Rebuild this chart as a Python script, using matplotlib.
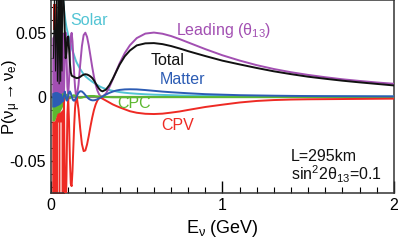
import matplotlib
matplotlib.use("Agg")
import matplotlib.pyplot as plt
from matplotlib.ticker import MultipleLocator

plt.rcParams['font.family'] = ['Liberation Sans', 'DejaVu Sans']
plt.rcParams['mathtext.fontset'] = 'custom'
plt.rcParams['mathtext.rm'] = 'Liberation Sans'
plt.rcParams['mathtext.it'] = 'Liberation Sans'
plt.rcParams['mathtext.default'] = 'regular'

# neutrino energy (GeV) where the curves are sampled
energy = [0.07, 0.075, 0.08, 0.085, 0.09, 0.095,
          0.10, 0.105, 0.11, 0.115, 0.12, 0.125, 0.13, 0.135, 0.14, 0.145, 0.15,
          0.16, 0.17, 0.18, 0.19, 0.20, 0.21, 0.22, 0.23, 0.24, 0.25,
          0.26, 0.27, 0.28, 0.29, 0.30, 0.32, 0.34, 0.36, 0.38, 0.40,
          0.43, 0.46, 0.50, 0.55, 0.60, 0.65, 0.70, 0.75, 0.80,
          0.90, 1.0, 1.1, 1.2, 1.3, 1.4, 1.5, 1.6, 1.7, 1.8, 1.9, 2.0]

leading = [0.0246, 0.0006, 0.0303, 0.0500, 0.0332, 0.0078,
           0.0004, 0.0128, 0.0322, 0.0465, 0.0498, 0.0431, 0.0307, 0.0176, 0.0072, 0.0012, 0.0002,
           0.0093, 0.0251, 0.0395, 0.0480, 0.0499, 0.0466, 0.0399, 0.0316, 0.0232, 0.0157,
           0.0095, 0.0049, 0.0019, 0.0003, 0.0000, 0.0024, 0.0074, 0.0135, 0.0199, 0.0261,
           0.0340, 0.0401, 0.0457, 0.0492, 0.0500, 0.0491, 0.0473, 0.0449, 0.0423,
           0.0371, 0.0323, 0.0282, 0.0246, 0.0216, 0.0191, 0.0170, 0.0152, 0.0136, 0.0123, 0.0111, 0.0101]

solar = [0.076, 0.069, 0.063, 0.058, 0.054, 0.051,
         0.048, 0.046, 0.044, 0.041, 0.038, 0.036, 0.034, 0.032, 0.030, 0.028, 0.0265,
         0.024, 0.0215, 0.0195, 0.0175, 0.016, 0.0148, 0.0137, 0.0127, 0.0117, 0.0108,
         0.0099, 0.0091, 0.0083, 0.0076, 0.0070, 0.0060, 0.0052, 0.0046, 0.0041, 0.0036,
         0.0031, 0.0027, 0.0023, 0.0019, 0.0016, 0.0014, 0.0012, 0.0010, 0.0009,
         0.0007, 0.0006, 0.0005, 0.0004, 0.00035, 0.0003, 0.00027, 0.00024, 0.00021, 0.00019, 0.00017, 0.00015]

matter = [-0.0034, 0.0008, 0.0040, 0.0006, -0.0030, -0.0026,
          0.0006, 0.0034, 0.0041, 0.0027, 0.0004, -0.0017, -0.0029, -0.0031, -0.0024, -0.0011, 0.0004,
          0.0031, 0.0043, 0.0041, 0.0029, 0.0013, -0.0003, -0.0016, -0.0024, -0.0028, -0.0028,
          -0.0025, -0.0020, -0.0013, -0.0006, 0.0002, 0.0017, 0.0030, 0.0040, 0.0048, 0.0053,
          0.0057, 0.0058, 0.0057, 0.0052, 0.0046, 0.0040, 0.0035, 0.0031, 0.0027,
          0.0020, 0.0016, 0.0012, 0.0010, 0.0008, 0.00065, 0.00053, 0.00045, 0.0004, 0.00035, 0.0003, 0.00025]

cpc = [0.0020, -0.0004, -0.0018, 0.0000, 0.0016, 0.0011,
       -0.0003, -0.0012, -0.0013, -0.0007, 0.0002, 0.0008, 0.0011, 0.0011, 0.0008, 0.0003, -0.0001,
       -0.0007, -0.0009, -0.0007, -0.0003, 0.0001, 0.0004, 0.0005, 0.0006, 0.0006, 0.0006,
       0.0004, 0.0003, 0.0002, 0.0001, 0.0000, -0.0002, -0.0003, -0.0004, -0.0004, -0.0004,
       -0.0004, -0.0004, -0.0004, -0.0003, -0.0003, -0.0003, -0.0003, -0.0003, -0.0003,
       -0.0003, -0.0003, -0.0003, -0.0003, -0.0003, -0.0003, -0.0003, -0.0003, -0.0003, -0.0003, -0.0003, -0.0003]

cpv = [-0.059, -0.0014, -0.0635, -0.0988, -0.0621, -0.0139,
       -0.0006, -0.0204, -0.0493, -0.0679, -0.0697, -0.0579, -0.0397, -0.0220, -0.0086, -0.0014, -0.0002,
       -0.0098, -0.0248, -0.0369, -0.0424, -0.0419, -0.0372, -0.0305, -0.0231, -0.0163, -0.0105,
       -0.0061, -0.0030, -0.0012, -0.0008, -0.0015, -0.0030, -0.0045, -0.0060, -0.0072, -0.0083,
       -0.0098, -0.0113, -0.0125, -0.0133, -0.0135, -0.0132, -0.0124, -0.0115, -0.0103,
       -0.0080, -0.0062, -0.0045, -0.0033, -0.0026, -0.0022, -0.0020, -0.0019, -0.0018, -0.0017, -0.0016, -0.0015]

total = [0.080, 0.070, 0.050, 0.030, 0.035, 0.046,
         0.047, 0.037, 0.026, 0.019, 0.0165, 0.016, 0.0158, 0.0154, 0.015, 0.0147, 0.0145,
         0.0147, 0.0155, 0.0165, 0.0172, 0.0175, 0.0173, 0.0167, 0.0158, 0.0146, 0.0128,
         0.0105, 0.0082, 0.0062, 0.0048, 0.0042, 0.0055, 0.0090, 0.0140, 0.0195, 0.0250,
         0.0315, 0.0360, 0.0400, 0.0416, 0.0418, 0.0410, 0.0395, 0.0376, 0.0355,
         0.0317, 0.0281, 0.0252, 0.0224, 0.0198, 0.0176, 0.0156, 0.0140, 0.0125, 0.0112, 0.0100, 0.0088]

# fast-oscillation region at low energy, drawn as envelopes
chaos_e = [0.004, 0.02, 0.035, 0.05, 0.065, 0.078]
purple_top = [0.046, 0.050, 0.050, 0.050, 0.050, 0.050]
blue_top = [0.003, 0.004, 0.004, 0.003, 0.002, 0.001]
blue_bot = [-0.008, -0.008, -0.007, -0.006, -0.004, -0.002]
green_bot = [-0.019, -0.019, -0.014, -0.012, -0.008, -0.004]
red_top = [-0.019, -0.019, -0.013, -0.012, -0.010, -0.004]
red_gap_e = [0.0425, 0.0495, 0.0595]
red_hi_e = [0.012, 0.035]
red_hi_lo = [0.052, 0.052]
red_hi_hi = [0.072, 0.072]
black_zz_e = [0.014, 0.02, 0.026, 0.032, 0.037, 0.042, 0.047, 0.052, 0.056, 0.060, 0.064, 0.068, 0.070]
black_zz_p = [0.03, 0.08, 0.02, 0.08, 0.012, 0.08, 0.01, 0.08, 0.012, 0.08, 0.02, 0.08, 0.08]

PURPLE = "#a24fb2"
CYAN = "#52c4d4"
BLUE = "#2c5cb4"
GREEN = "#5cb830"
RED = "#ee2a24"
BLACK = "#111111"

fig = plt.figure(figsize=(3.99, 2.48), dpi=100)
ax = fig.add_axes([0.128, 0.222, 0.859, 0.776])

ax.axhline(0, color="#808080", lw=1.6, zorder=1)

# low energy bands
ax.fill_between(chaos_e, 0, purple_top, color=PURPLE, lw=0, zorder=2)
ax.fill_between(chaos_e, 0, green_bot, color=GREEN, lw=0, zorder=2)
ax.fill_between(chaos_e, red_top, -0.08, color=RED, lw=0, zorder=2)
ax.vlines(red_gap_e, -0.08, -0.02, color="#f6a6a0", lw=0.7, zorder=2)
ax.fill_between(chaos_e, blue_bot, blue_top, color=BLUE, lw=0, zorder=2)
ax.fill_between(red_hi_e, red_hi_lo, red_hi_hi, color=RED, lw=0, zorder=2)
ax.plot(black_zz_e, black_zz_p, color=BLACK, lw=0.8, zorder=4)

lw = 1.4
ax.plot(energy, solar, color=CYAN, lw=lw, zorder=3)
ax.plot(energy, leading, color=PURPLE, lw=lw, zorder=3)
ax.plot(energy, cpc, color=GREEN, lw=lw, zorder=3)
ax.plot(energy, cpv, color=RED, lw=lw, zorder=3)
ax.plot(energy, matter, color=BLUE, lw=lw, zorder=3)
ax.plot(energy, total, color=BLACK, lw=lw, zorder=4)

fs = 11.5
ax.text(0.11, 0.0593, "Solar", color=CYAN, fontsize=fs, va="center")
ax.text(0.727, 0.0516, r"Leading ($\theta_{13}$)", color=PURPLE, fontsize=fs, va="center")
ax.text(0.58, 0.0284, "Total", color=BLACK, fontsize=fs, va="center")
ax.text(0.634, 0.0137, "Matter", color=BLUE, fontsize=fs, va="center")
ax.text(0.384, -0.0056, "CPC", color=GREEN, fontsize=fs, va="center")
ax.text(0.645, -0.0226, "CPV", color=RED, fontsize=fs, va="center")
ax.text(1.40, -0.0466, "L=295km", color=BLACK, fontsize=fs, va="center")
ax.text(1.40, -0.0605, r"sin$^{2}$2$\theta_{13}$=0.1", color=BLACK, fontsize=fs, va="center")

ax.set_xlim(0, 2)
ax.set_ylim(-0.075, 0.075)
ax.set_xticks([0, 1, 2])
ax.set_xticklabels(["0", "1", "2"])
ax.set_yticks([-0.05, 0, 0.05])
ax.set_yticklabels(["-0.05", "0", "0.05"])
ax.xaxis.set_minor_locator(MultipleLocator(0.1))
ax.yaxis.set_minor_locator(MultipleLocator(0.01))
ax.tick_params(which="major", direction="in", length=9, width=1, labelsize=11.5, top=False, right=False)
ax.tick_params(which="minor", direction="in", length=4.5, width=0.8, top=False, right=False)
for s in ax.spines.values():
    s.set_linewidth(1.1)
    s.set_color("#333333")

ax.set_xlabel(r"E$_{\nu}$ (GeV)", fontsize=13, labelpad=4)
ax.set_ylabel(r"P($\nu_{\mu}$$\rightarrow$$\nu_{e}$)", fontsize=12)
ax.yaxis.set_label_coords(-0.083, 0.5)

fig.savefig("out.png", dpi=100)
